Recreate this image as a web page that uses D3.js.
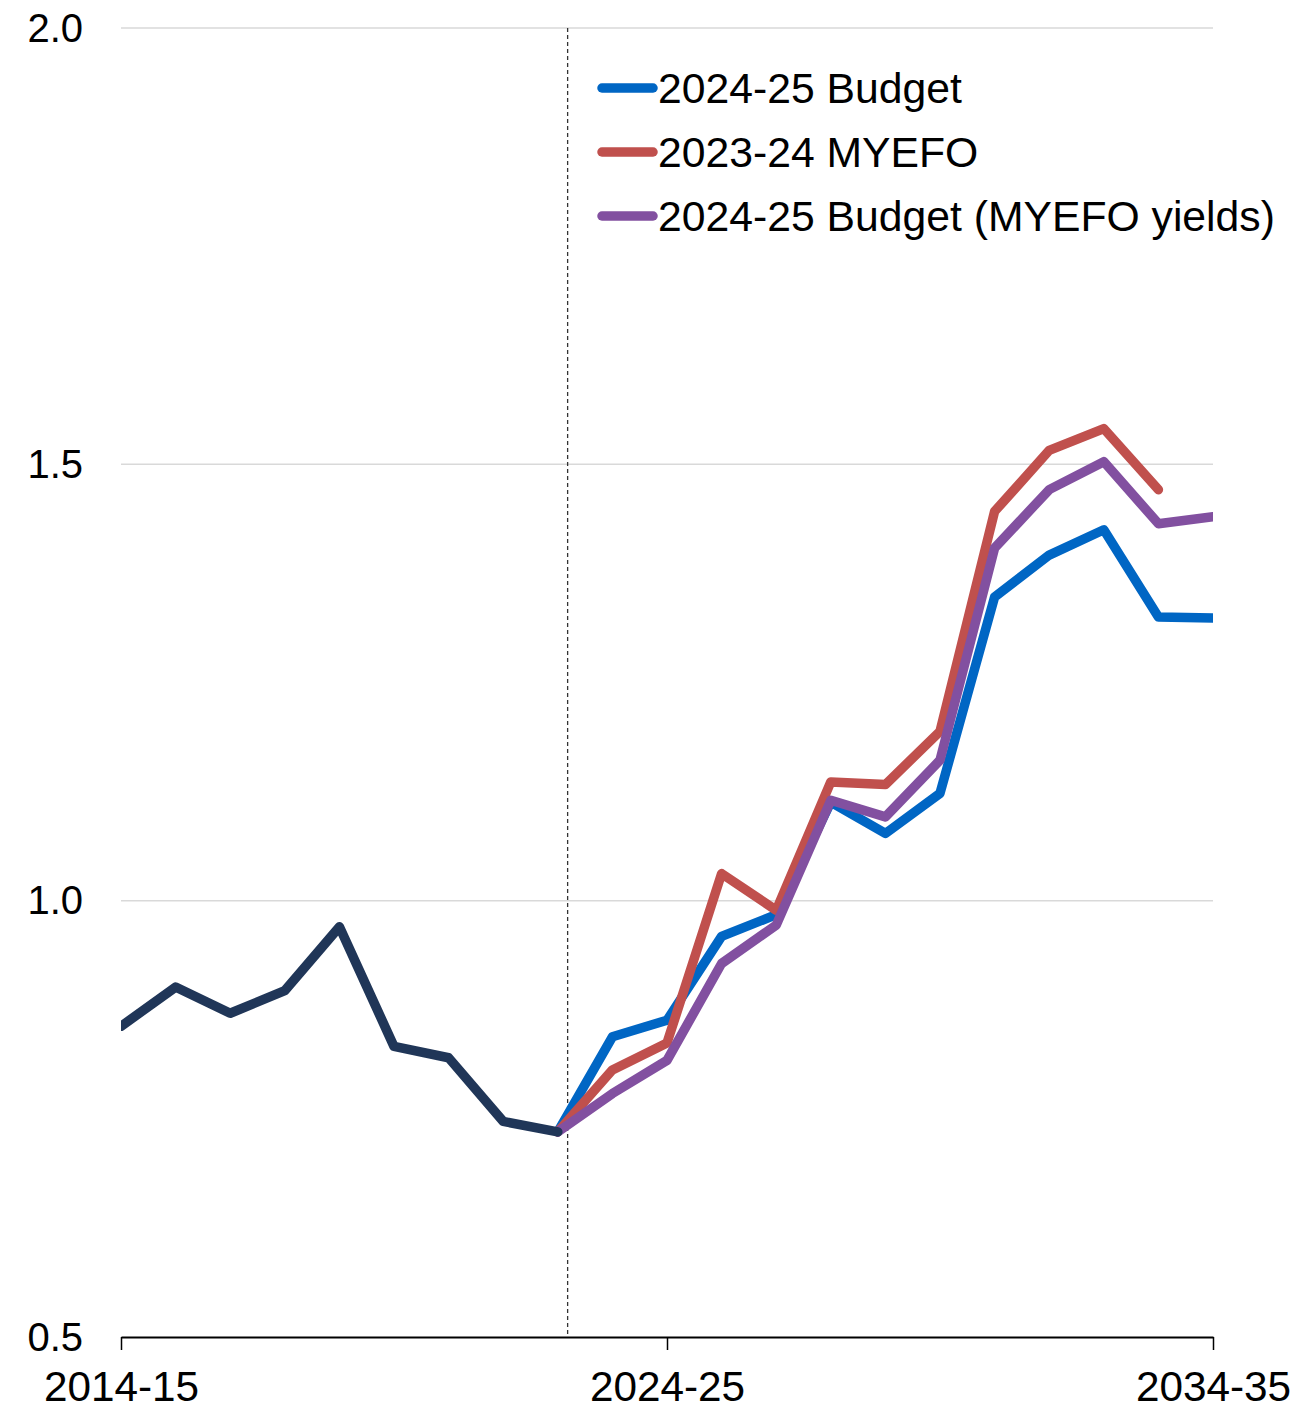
<!DOCTYPE html>
<html>
<meta charset="utf-8">
<title>Interest payments</title>
<style>
  body { margin: 0; background: #fff; font-family: "Liberation Sans", Arial, sans-serif; }
  .grid line { stroke: #d9d9d9; stroke-width: 1.5; }
  .series { fill: none; stroke-width: 9.5; stroke-linejoin: round; stroke-linecap: round; }
</style>
<script src="https://d3js.org/d3.v7.min.js"></script>
<body>
<script>
  // financial years on the category axis
  var years = ['2014-15','2015-16','2016-17','2017-18','2018-19','2019-20','2020-21',
               '2021-22','2022-23','2023-24','2024-25','2025-26','2026-27','2027-28',
               '2028-29','2029-30','2030-31','2031-32','2032-33','2033-34','2034-35'];
  var tickYears = ['2014-15', '2024-25', '2034-35'];
  var yTicks = [0.5, 1.0, 1.5, 2.0];

  // values (per cent), null = no value
  var actual = [0.856, 0.901, 0.871, 0.897, 0.970, 0.833, 0.820, 0.747, 0.735,
                null, null, null, null, null, null, null, null, null, null, null, null];
  var budget = [null, null, null, null, null, null, null, null, 0.735,
                0.844, 0.863, 0.959, 0.984, 1.113, 1.077, 1.123, 1.348, 1.396, 1.425, 1.325, 1.324];
  var myefo = [null, null, null, null, null, null, null, null, 0.735,
               0.806, 0.837, 1.031, 0.989, 1.136, 1.133, 1.194, 1.446, 1.516, 1.541, 1.471, null];
  var budgetMyefoYields = [null, null, null, null, null, null, null, null, 0.735,
                           0.779, 0.817, 0.928, 0.972, 1.115, 1.096, 1.161, 1.404, 1.471, 1.503, 1.432, 1.440];
  var dividerAt = 8.18; // forecast divider, in category units

  var seriesNames = ['2024-25 Budget', '2023-24 MYEFO', '2024-25 Budget (MYEFO yields)'];
  var seriesColors = ['#0066c4', '#c0504d', '#8250a0'];

  var W = 1298, H = 1409;
  var plotLeft = 121, plotRight = 1213, plotTop = 28, plotBottom = 1337;

  var svg = d3.select('body').append('svg')
      .attr('width', W).attr('height', H);

  var x = d3.scaleLinear().domain([0, years.length - 1]).range([plotLeft, plotRight]);
  var y = d3.scaleLinear().domain([0.5, 2.0]).range([plotBottom, plotTop]);

  svg.append('defs').append('clipPath').attr('id', 'plot')
    .append('rect').attr('x', plotLeft).attr('y', 0)
    .attr('width', plotRight - plotLeft).attr('height', H);

  // gridlines
  svg.append('g').attr('class', 'grid')
    .selectAll('line').data(yTicks.slice(1)).enter().append('line')
    .attr('x1', plotLeft).attr('x2', plotRight)
    .attr('y1', function(d) { return y(d); }).attr('y2', function(d) { return y(d); });

  // y labels
  svg.append('g').selectAll('text').data(yTicks).enter().append('text')
    .attr('x', 83).attr('y', function(d) { return y(d); })
    .attr('dy', '0.34em')
    .attr('text-anchor', 'end')
    .style('font-size', '40px')
    .text(function(d) { return d.toFixed(1); });

  // forecast divider
  svg.append('line')
    .attr('x1', x(dividerAt)).attr('x2', x(dividerAt))
    .attr('y1', y(2.0)).attr('y2', y(0.5))
    .attr('stroke', '#333').attr('stroke-width', 1.3)
    .attr('stroke-dasharray', '4,3');

  // x axis
  var xAxis = d3.axisBottom(x)
    .tickValues(tickYears.map(function(t) { return years.indexOf(t); }))
    .tickFormat(function(i) { return years[i]; })
    .tickSize(13).tickSizeOuter(0).tickPadding(21);
  var gx = svg.append('g')
    .attr('transform', 'translate(0,' + plotBottom + ')')
    .call(xAxis);
  gx.select('.domain').attr('stroke', '#000').attr('stroke-width', 2);
  gx.selectAll('.tick line').attr('stroke', '#000').attr('stroke-width', 1.5);
  gx.selectAll('.tick text')
    .attr('fill', '#000')
    .style('font-family', '"Liberation Sans", Arial, sans-serif')
    .style('font-size', '42.3px');

  var line = d3.line()
    .defined(function(d) { return d != null; })
    .x(function(d, i) { return x(i); })
    .y(function(d) { return y(d); });

  var plot = svg.append('g').attr('clip-path', 'url(#plot)');
  var drawn = [budget, myefo, budgetMyefoYields];
  drawn.forEach(function(s, k) {
    plot.append('path').datum(s)
      .attr('class', 'series')
      .attr('stroke', seriesColors[k])
      .attr('d', line);
  });
  plot.append('path').datum(actual)
    .attr('class', 'series')
    .attr('stroke', '#203658')
    .attr('d', line);

  // legend
  var legend = svg.selectAll('.legend')
    .data(seriesNames).enter().append('g')
    .attr('class', 'legend')
    .attr('transform', function(d, i) { return 'translate(0,' + (88 + i * 64) + ')'; });

  legend.append('line')
    .attr('x1', 602).attr('x2', 653)
    .attr('stroke', function(d, i) { return seriesColors[i]; })
    .attr('stroke-width', 9.5).attr('stroke-linecap', 'round');

  legend.append('text')
    .attr('x', 658).attr('dy', '0.35em')
    .style('font-size', '42.7px')
    .text(function(d) { return d; });
</script>
</body>
</html>
